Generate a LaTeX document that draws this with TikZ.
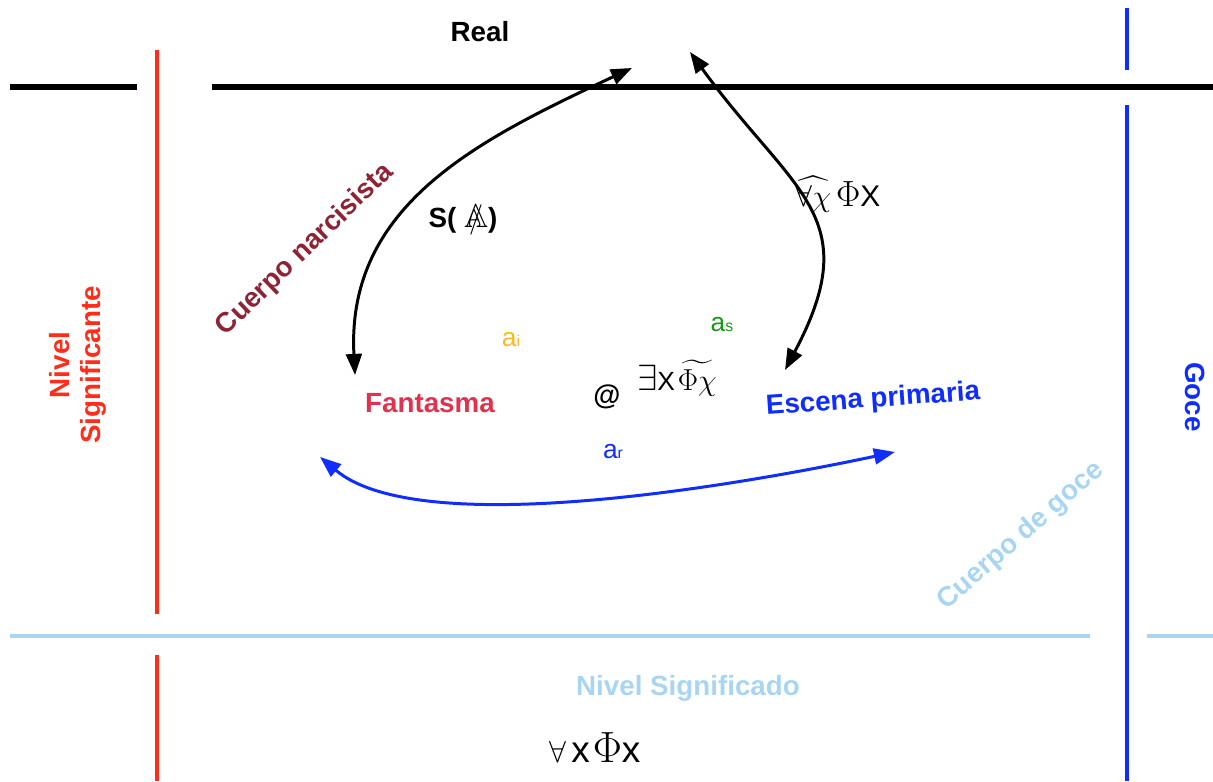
\documentclass[tikz,border=0pt]{standalone}
\usepackage{amssymb}
\usepackage{fontspec}
\setmainfont{Liberation Sans}
\usetikzlibrary{arrows.meta}

\definecolor{rojo}{RGB}{255,45,25}
\definecolor{azul}{RGB}{15,45,255}
\definecolor{celeste}{RGB}{168,214,240}
\definecolor{granate}{RGB}{142,35,53}
\definecolor{fresa}{RGB}{224,49,78}
\definecolor{naranja}{RGB}{255,185,30}
\definecolor{verde}{RGB}{26,150,26}

\newcommand{\Abarrada}{\ooalign{$\mathbb{A}$\cr\hidewidth$/$\hidewidth\cr}}

\begin{document}
\begin{tikzpicture}[x=0.02cm,y=0.02cm,>={Triangle[length=12pt,width=9pt]},
  lbl/.style={font=\fontsize{15.8}{18}\selectfont\bfseries,inner sep=0pt},
  sub/.style={font=\fontsize{15}{18}\selectfont,inner sep=0pt},
  eje/.style={line width=2.6pt},
  flecha/.style={<->,line width=1.7pt}]
  \useasboundingbox (0,0) rectangle (1213,781);
  % ejes
  \draw[eje,line width=3pt] (10,694) -- (137,694);
  \draw[eje,line width=3pt] (212,694) -- (1213,694);
  \draw[eje,rojo] (157,731) -- (157,167);
  \draw[eje,rojo] (157,126) -- (157,0);
  \draw[eje,azul] (1127,773) -- (1127,711);
  \draw[eje,azul] (1127,676) -- (1127,0);
  \draw[eje,celeste] (10,145) -- (1090,145);
  \draw[eje,celeste] (1147,145) -- (1213,145);
  % textos
  \node[lbl] (real) at (480,749) {Real};
  \node[lbl,text=rojo,align=center,rotate=90] (nivel) at (78,416) {Nivel\\Significante};
  \node[lbl,text=azul,rotate=-90] (goce) at (1195,384) {Goce};
  \node[lbl,text=granate,rotate=44] (narc) at (305,531) {Cuerpo narcisista};
  \node[lbl,text=celeste,rotate=41] (cgoce) at (1021,245) {Cuerpo de goce};
  \node[lbl,text=celeste] (nsdo) at (688,93) {Nivel Significado};
  \node[lbl,text=fresa] (fant) at (430,378) {Fantasma};
  \node[lbl,text=azul,rotate=4] (escena) at (873,381) {Escena primaria};
  \node[lbl] (arroba) at (607,384) {@};
  \node[inner sep=0pt] (existe) at (677,403) {{\fontsize{22}{24}\selectfont$\exists$}{\fontsize{15}{16}\selectfont X}\,{\fontsize{17}{20}\selectfont$\widetilde{\Phi\chi}$}};
  \node[inner sep=0pt] (sa) at (463,561) {{\fontsize{15.8}{18}\selectfont\bfseries S( }{\fontsize{19}{20}\selectfont\Abarrada}{\fontsize{15.8}{18}\selectfont\bfseries )}};
  \node[inner sep=0pt] (paratodo) at (838,587) {{\fontsize{17}{20}\selectfont$\widehat{\forall\chi}$}\ {\fontsize{22}{24}\selectfont$\Phi$}{\fontsize{17}{20}\selectfont X}};
  \node[sub,text=naranja] (ai) at (511,441) {a{\fontsize{9}{9}\selectfont i}};
  \node[sub,text=verde] (as) at (722,456) {a{\fontsize{9}{9}\selectfont s}};
  \node[sub,text=azul] (ar) at (613,329) {a{\fontsize{9}{9}\selectfont r}};
  \node[inner sep=0pt] (univ) at (595,33) {{\fontsize{18}{20}\selectfont$\forall$}\ {\fontsize{21}{22}\selectfont x}\,{\fontsize{24}{26}\selectfont$\Phi$}{\fontsize{21}{22}\selectfont x}};
  % flechas
  \coordinate (narc-a) at (355,406);
  \coordinate (narc-b) at (632,713);
  \coordinate (goce-a) at (690,729);
  \coordinate (goce-b) at (785,411);
  \coordinate (r-a) at (320,324);
  \coordinate (r-b) at (895,329);
  \draw[flecha] (narc-a) to[out=93,in=205,looseness=1.05] (narc-b);
  \draw[flecha] (goce-a) to[out=-54,in=62,looseness=1.35] (goce-b);
  \draw[flecha,azul] (r-a) to[out=-40,in=192,looseness=0.6] (r-b);
\end{tikzpicture}
\end{document}
